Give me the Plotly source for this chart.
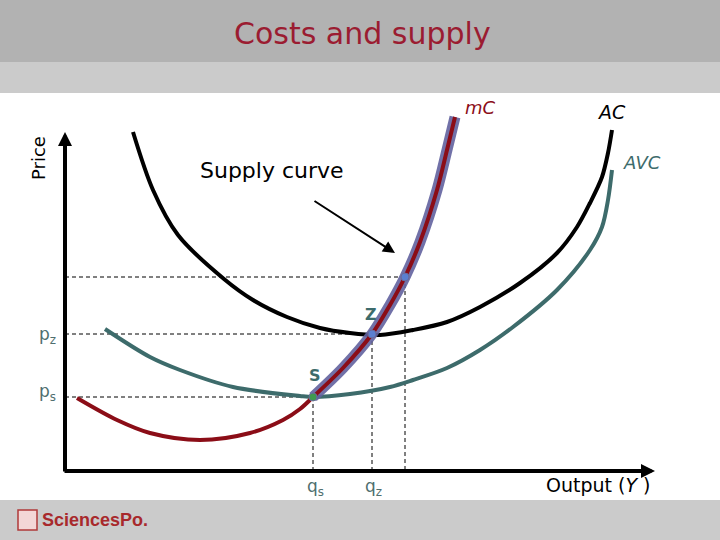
import plotly.graph_objects as go

# ---- data (output units on x, price units on y) ----
ac_x = [68, 88, 113, 159, 188, 222, 255, 285, 315, 348, 382, 415, 455, 492, 512, 525, 537, 543, 547]
ac_y = [339, 281, 236, 192, 171, 154, 143, 138, 136, 141, 149, 164, 188, 218, 244, 268, 294, 318, 341]

avc_x = [40, 85, 115, 168, 235, 248, 285, 325, 348, 382, 415, 448, 492, 525, 537, 543, 547]
avc_y = [142, 114, 101, 84, 75, 74, 77, 84, 91, 103, 121, 144, 181, 221, 244, 271, 301]

mc_x = [12, 52, 85, 135, 185, 218, 235, 248, 278, 307, 325, 340, 355, 372, 382, 390]
mc_y = [73, 51, 38, 31, 38, 51, 62, 74, 103, 137, 166, 194, 229, 281, 321, 354]
supply_start = 7  # supply curve = mC from point S upward

q_s, p_s = 248, 74     # point S
q_z, p_z = 307, 137    # point Z
q_u, p_u = 340, 194    # upper point on supply curve

x_max, y_max = 590, 339  # axis arrow ends

TEAL = "#3d6b6b"
LABEL = "#4f6f6f"
RED = "#8b0d17"
TITLE = "#9b1c31"
FONT = "DejaVu Sans"

fig = go.Figure()

# dashed guide lines
for q, p in [(q_s, p_s), (q_z, p_z), (q_u, p_u)]:
    fig.add_trace(go.Scatter(x=[0, q], y=[p, p], mode="lines",
                             line=dict(color="black", width=1, dash="4px,3px"),
                             hoverinfo="skip", showlegend=False))
    fig.add_trace(go.Scatter(x=[q, q], y=[p, 0], mode="lines",
                             line=dict(color="black", width=1, dash="4px,3px"),
                             hoverinfo="skip", showlegend=False))

SM = 0.9
# AC
fig.add_trace(go.Scatter(x=ac_x, y=ac_y, mode="lines",
                         line=dict(color="black", width=4, shape="spline", smoothing=SM),
                         showlegend=False, hoverinfo="skip"))
# AVC
fig.add_trace(go.Scatter(x=avc_x, y=avc_y, mode="lines",
                         line=dict(color=TEAL, width=4, shape="spline", smoothing=SM),
                         showlegend=False, hoverinfo="skip"))
# supply highlight
fig.add_trace(go.Scatter(x=mc_x[supply_start:], y=mc_y[supply_start:], mode="lines",
                         line=dict(color="rgba(98,98,158,0.9)", width=11, shape="spline", smoothing=SM),
                         showlegend=False, hoverinfo="skip"))
# mC
fig.add_trace(go.Scatter(x=mc_x, y=mc_y, mode="lines",
                         line=dict(color=RED, width=4, shape="spline", smoothing=SM),
                         showlegend=False, hoverinfo="skip"))
# points
fig.add_trace(go.Scatter(x=[q_s], y=[p_s], mode="markers",
                         marker=dict(color="#3f9a4f", size=8, line=dict(color="#6a6a9a", width=1)),
                         showlegend=False, hoverinfo="skip"))
fig.add_trace(go.Scatter(x=[q_z, q_u], y=[p_z, p_u], mode="markers",
                         marker=dict(color="#5b7fd0", size=8, line=dict(color="#6a6a9a", width=1)),
                         showlegend=False, hoverinfo="skip"))

shapes = [
    dict(type="rect", xref="paper", yref="paper", x0=0, x1=1, y0=1 - 62/540, y1=1,
         fillcolor="#b2b2b2", line_width=0, layer="below"),
    dict(type="rect", xref="paper", yref="paper", x0=0, x1=1, y0=1 - 93/540, y1=1 - 62/540,
         fillcolor="#cbcbcb", line_width=0, layer="below"),
    dict(type="rect", xref="paper", yref="paper", x0=0, x1=1, y0=0, y1=40/540,
         fillcolor="#cbcbcb", line_width=0, layer="below"),
    # logo box
    dict(type="rect", xref="paper", yref="paper", x0=18/720, x1=37/720, y0=1 - 530/540, y1=1 - 510/540,
         fillcolor="#f3d6d6", line=dict(color="#b03a3a", width=1.5)),
]

ann = []
# axes with arrows
ann.append(dict(x=x_max, y=0, ax=-2, ay=0, xref="x", yref="y", axref="x", ayref="y",
                showarrow=True, arrowhead=2, arrowsize=0.7, arrowwidth=4, arrowcolor="black", text=""))
ann.append(dict(x=0, y=y_max, ax=0, ay=-2, xref="x", yref="y", axref="x", ayref="y",
                showarrow=True, arrowhead=2, arrowsize=0.7, arrowwidth=4, arrowcolor="black", text=""))
# supply curve pointer
ann.append(dict(x=330, y=218, ax=248, ay=271, xref="x", yref="y", axref="x", ayref="y",
                showarrow=True, arrowhead=2, arrowsize=1.2, arrowwidth=2, arrowcolor="black", text=""))

def txt(x, y, t, size, color="black", xref="x", yref="y", angle=0, xanchor="center", family=FONT):
    ann.append(dict(x=x, y=y, xref=xref, yref=yref, text=t, showarrow=False, textangle=angle,
                    xanchor=xanchor, yanchor="middle", font=dict(family=family, size=size, color=color)))

txt(0.504, 1 - 33/540, "Costs and supply", 30, TITLE, xref="paper", yref="paper")
txt(-27, 313, "Price", 18, angle=-90)
txt(207, 301, "Supply curve", 22)
txt(415, 364, "<i>mC</i>", 18, RED)
txt(546, 359, "<i>AC</i>", 19)
txt(577, 309, "<i>AVC</i>", 18, TEAL)
txt(306, 157, "<b>Z</b>", 16, TEAL)
txt(250, 96, "<b>S</b>", 16, TEAL)
txt(-18, 136, "p<sub>z</sub>", 17, LABEL)
txt(-18, 79, "p<sub>s</sub>", 17, LABEL)
txt(250, -16, "q<sub>s</sub>", 17, LABEL)
txt(308, -16, "q<sub>z</sub>", 17, LABEL)
txt(533, -14, "Output (<i>Y</i> )", 19)
txt(40/720, 1 - 520/540, "<b>SciencesPo.</b>", 18, "#a8292c", xref="paper", yref="paper",
    xanchor="left", family="Liberation Sans")

fig.update_layout(
    width=720, height=540, margin=dict(l=0, r=0, t=0, b=0),
    paper_bgcolor="white", plot_bgcolor="rgba(0,0,0,0)",
    xaxis=dict(range=[-65, 655], visible=False, fixedrange=True),
    yaxis=dict(range=[-69, 471], visible=False, fixedrange=True),
    shapes=shapes, annotations=ann,
)

fig.write_html("out.html", config={"displayModeBar": False},
               post_script="document.body.style.margin='0px';")
